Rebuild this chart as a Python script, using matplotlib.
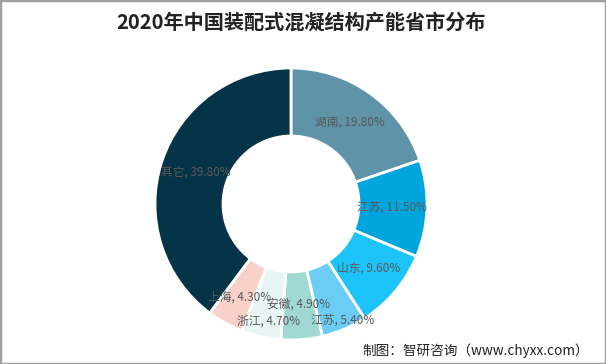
import matplotlib.pyplot as plt
import numpy as np
from matplotlib.patches import Rectangle

plt.rcParams['font.family'] = ['Noto Sans CJK SC', 'DejaVu Sans']

# 数据
provinces = ['湖南', '江苏', '山东', '江苏', '安徽', '浙江', '上海', '其它']
shares = [19.80, 11.50, 9.60, 5.40, 4.90, 4.70, 4.30, 39.80]
colors = ['#5f93a8', '#00a5dd', '#1cc4fa', '#6ccdf4', '#a0d8d3',
          '#e7f5f5', '#f9d1c8', '#053347']

fig = plt.figure(figsize=(6.06, 3.64), dpi=100)

# donut
ax = fig.add_axes([155 / 606, 24 / 364, 272 / 606, 272 / 364])
wedges, _ = ax.pie(shares, colors=colors, startangle=90, counterclock=False,
                   radius=1.0, wedgeprops=dict(width=0.5, edgecolor='white', linewidth=2))
ax.set_xlim(-1, 1)
ax.set_ylim(-1, 1)
ax.set_aspect('equal')
ax.axis('off')

# 标签 (small slices at the bottom are nudged so they don't collide)
nudge = {3: (0.09, -0.17), 5: (0.0, -0.14), 6: (-0.02, -0.04)}
total = sum(shares)
start = 90.0
for i, (name, v) in enumerate(zip(provinces, shares)):
    span = 360.0 * v / total
    mid = np.deg2rad(start - span / 2)
    r = 0.74
    dx, dy = nudge.get(i, (0, 0))
    ax.text(r * np.cos(mid) + dx, r * np.sin(mid) + dy, f'{name}, {v:.2f}%',
            ha='center', va='center', fontsize=8.5, color='#595959')
    start -= span

fig.text(0.497, 0.94, '2020年中国装配式混凝结构产能省市分布', ha='center', va='center',
         fontsize=14.5, fontweight='bold', color='#222222')
fig.text(0.972, 0.037, '制图：智研咨询（www.chyxx.com）', ha='right', va='center',
         fontsize=9.8, color='#222222')

# 外框
fig.patches.append(Rectangle((0, 0), 1, 1, transform=fig.transFigure, fill=False,
                             edgecolor='#a0a0a0', linewidth=2.5))

fig.savefig('out.png', dpi=100)
